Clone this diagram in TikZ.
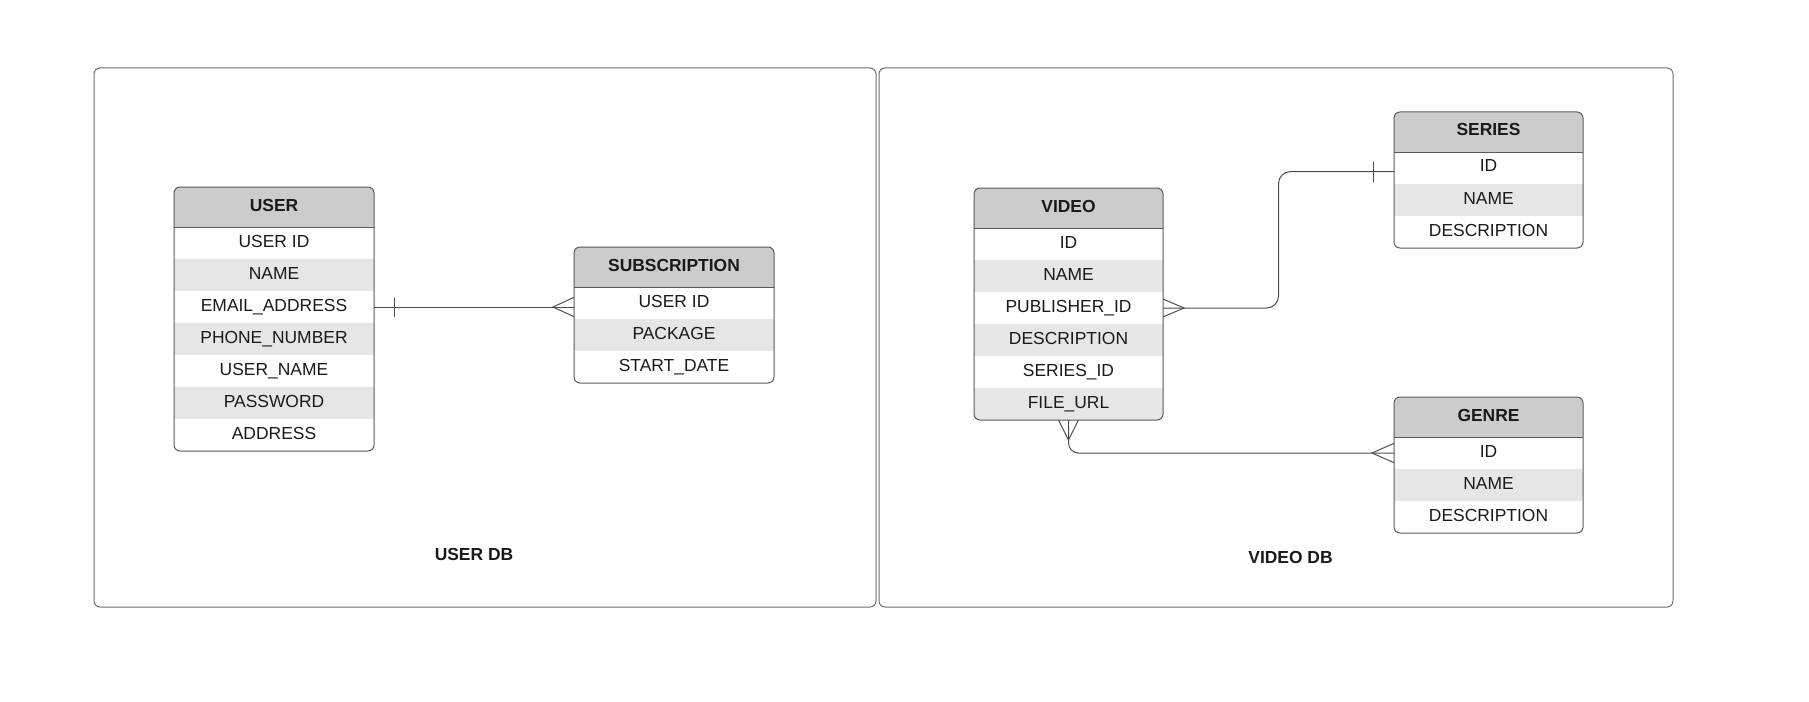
\documentclass[tikz,border=0pt]{standalone}
\usepackage{fontspec}
\setmainfont{Liberation Sans}
\usetikzlibrary{calc}
\definecolor{headfill}{HTML}{CCCCCC}
\definecolor{stripe}{HTML}{E6E6E6}
\definecolor{tline}{HTML}{5A5A5A}
\definecolor{cline}{HTML}{4D4D4D}
\definecolor{boxline}{HTML}{6E6E6E}
\definecolor{txt}{HTML}{1A1A1A}
\tikzset{
  headcell/.style={inner sep=0pt, outer sep=0pt, minimum height=40bp, fill=headfill, text=txt,
    font=\fontsize{17.5}{21}\selectfont\bfseries, text height=12.6bp, text depth=4.6bp},
  rowcell/.style={inner sep=0pt, outer sep=0pt, minimum height=32bp, text=txt,
    font=\fontsize{17.5}{21}\selectfont, text height=12.6bp, text depth=4.6bp},
  tborder/.style={draw=tline, line width=1bp},
  conn/.style={draw=cline, line width=1bp},
  dbbox/.style={draw=boxline, line width=1bp, rounded corners=6bp, inner sep=0pt, outer sep=0pt},
  dbtitle/.style={font=\fontsize{17.5}{21}\selectfont\bfseries, text=txt, inner sep=0pt,
    text height=12.6bp, text depth=0bp},
}
% name, left x, top y, width, title, number of rows, rows
\newcommand{\ertable}[7]{%
  \begin{scope}
    \clip[rounded corners=6bp] (#2,#3) rectangle ++(#4,40+32*#6);
    \node[headcell, minimum width=#4bp, anchor=north west] (#1) at (#2,#3) {#5};
    \foreach \t [count=\i] in {#7} {
      \pgfmathsetmacro\yy{#3+40+32*(\i-1)}
      \ifodd\i\def\rc{white}\else\def\rc{stripe}\fi
      \node[rowcell, minimum width=#4bp, anchor=north west, fill=\rc] (#1-\i) at (#2,\yy) {\t};
    }
  \end{scope}
  \draw[tborder, rounded corners=6bp] (#2,#3) rectangle ++(#4,40+32*#6);
  \draw[tborder] (#1.south west) -- (#1.south east);
}
\begin{document}
\begin{tikzpicture}[x=1bp,y=-1bp]
\useasboundingbox (0,0) rectangle (1809,702);
\fill[white] (0,0) rectangle (1809,702);

% containers
\node[dbbox, minimum width=782bp, minimum height=539bp, anchor=north west] (userdb) at (94,68) {};
\node[dbbox, minimum width=794bp, minimum height=539bp, anchor=north west] (videodb) at (879,68) {};
\node[dbtitle] (userdbt) at (474,554.5) {USER DB};
\node[dbtitle] (videodbt) at (1290.5,557) {VIDEO DB};

% tables
\ertable{user}{174}{187}{200}{USER}{7}{USER ID,NAME,EMAIL\_ADDRESS,PHONE\_NUMBER,USER\_NAME,PASSWORD,ADDRESS}
\ertable{sub}{574}{247}{200}{SUBSCRIPTION}{3}{USER ID,PACKAGE,START\_DATE}
\ertable{video}{974}{188}{189}{VIDEO}{6}{ID,NAME,PUBLISHER\_ID,DESCRIPTION,SERIES\_ID,FILE\_URL}
\ertable{series}{1394}{112}{189}{SERIES}{3}{ID,NAME,DESCRIPTION}
\ertable{genre}{1394}{397}{189}{GENRE}{3}{ID,NAME,DESCRIPTION}

% USER -- SUBSCRIPTION
\coordinate (us) at (user-3.east -| sub.west);
\draw[conn] (user-3.east) -- (us);
\draw[conn] ($(user-3.east)+(20,-9.5)$) -- ++(0,19);
\draw[conn] ($(us)+(0,-9.7)$) -- ($(us)+(-21,0)$) -- ($(us)+(0,9.7)$);

% VIDEO -- SERIES
\coordinate (s1) at ($(series-1.west)+(0,3.5)$);
\draw[conn, rounded corners=12bp] (video-3.east) -| ($(video-3.east)!.5!(s1)$) |- (s1);
\draw[conn] ($(video-3.east)+(0,-9)$) -- ($(video-3.east)+(21,0)$) -- ($(video-3.east)+(0,9)$);
\draw[conn] ($(s1)+(-20.5,-10)$) -- ++(0,20);

% VIDEO -- GENRE
\draw[conn, rounded corners=10bp] (video-6.south) |- (genre-1.west);
\draw[conn] ($(video-6.south)+(-10,0)$) -- ($(video-6.south)+(0,20)$) -- ($(video-6.south)+(10,0)$);
\draw[conn] ($(genre-1.west)+(0,-9.7)$) -- ($(genre-1.west)+(-22,0)$) -- ($(genre-1.west)+(0,9.7)$);
\end{tikzpicture}
\end{document}
